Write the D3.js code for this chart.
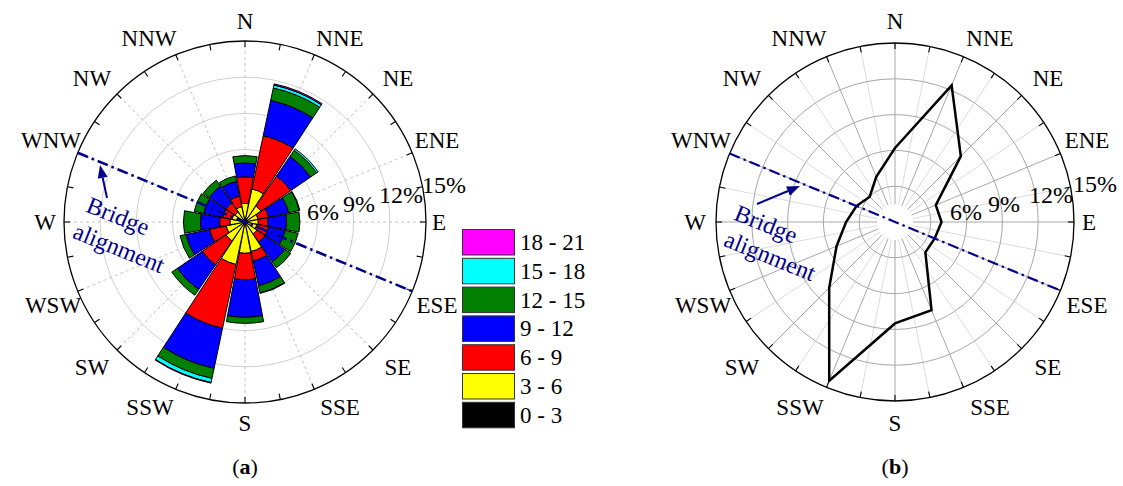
<!DOCTYPE html>
<html>
<head>
<meta charset="utf-8">
<script src="https://cdn.jsdelivr.net/npm/d3@7"></script>
<style>
  html, body { margin: 0; padding: 0; background: #fff; }
  svg { display: block; }
  svg text { font-family: "Liberation Serif", "Times New Roman", Times, serif; }
</style>
</head>
<body>
<svg id="chart" width="1123" height="486"></svg>
<script>
// ---------------- DATA ----------------
const directions = ["N","NNE","NE","ENE","E","ESE","SE","SSE","S","SSW","SW","WSW","W","WNW","NW","NNW"];
const bandKeys   = ["0 - 3","3 - 6","6 - 9","9 - 12","12 - 15","15 - 18","18 - 21"];
const bandColors = ["#000000","#ffff00","#ff0000","#0000ff","#007f00","#00ffff","#ff00ff"];
// frequency (%) per speed band, one value per direction (N ... NNW)
const band0_3   = [0.25,0.30,0.25,0.20,0.20,0.20,0.20,0.20,0.25,0.30,0.25,0.20,0.20,0.20,0.20,0.20];
const band3_6   = [1.30,2.50,1.35,0.90,0.90,0.80,1.00,2.30,2.35,3.30,1.65,1.40,1.05,0.90,0.80,1.10];
const band6_9   = [2.20,4.50,3.00,0.90,0.80,1.00,0.80,0.80,2.20,5.40,2.40,1.40,0.85,0.80,0.90,0.90];
const band9_12  = [1.15,3.00,2.00,1.70,1.55,1.40,2.00,2.10,3.10,3.40,2.50,2.00,1.60,1.60,1.70,1.25];
const band12_15 = [0.60,1.05,0.60,0.90,1.10,1.10,0.60,0.60,0.50,0.85,0.55,0.50,1.40,0.80,0.60,0.45];
const band15_18 = [0.00,0.25,0.15,0.05,0.00,0.00,0.00,0.05,0.00,0.35,0.00,0.00,0.00,0.00,0.00,0.00];
const band18_21 = [0.00,0.10,0.00,0.00,0.00,0.00,0.00,0.00,0.00,0.05,0.00,0.00,0.00,0.00,0.00,0.00];
// panel (b): total frequency (%) per direction
const freqB = [6.2,12.4,7.8,3.7,3.9,3.6,3.6,8.0,8.5,14.4,7.8,5.3,4.1,3.5,3.0,4.1];
const ringTicks = [3,6,9,12,15];
const ringLabels = ["6%","9%","12%","15%"];
const legendLabels = ["18 - 21","15 - 18","12 - 15","9 - 12","6 - 9","3 - 6","0 - 3"];
const alignDeg = 292.5; // bridge alignment direction (WNW - ESE)

// ---------------- LAYOUT ----------------
const compassOffsets = [[0,-201],[95,-184],[153,-144],[192,-82],[194,0],[192,83],[153,145],[95,185],
                        [0,201],[-95,185],[-153,145],[-192,83],[-200,0],[-194,-82],[-153,-144],[-96,-184]];
const pctOffsetsA = [[78,-10],[114,-18],[156,-27],[199,-37]];
const pctOffsetsB = [[71,-10],[109,-18],[156,-27],[200,-38]];

// ---------------- SETUP ----------------
const svg = d3.select("#chart");
svg.append("rect").attr("width",1123).attr("height",486).attr("fill","#fff");
const NAVY = "#00008B";
const bands = [band0_3,band3_6,band6_9,band9_12,band12_15,band15_18,band18_21];
const table = directions.map((d,i) => {
  const row = {dir: d};
  bandKeys.forEach((k,j) => row[k] = bands[j][i]);
  return row;
});

function polar(a, r) { return [Math.sin(a)*r, -Math.cos(a)*r]; }

function frame(g, R, label, pctOffsets) {
  g.append("circle").attr("r", R).attr("fill","none").attr("stroke","#000").attr("stroke-width",1.3);
  d3.range(32).forEach(i => {
    const a = i*Math.PI/16;
    const p1 = polar(a, R), p2 = polar(a, R-6);
    g.append("line").attr("x1",p1[0]).attr("y1",p1[1]).attr("x2",p2[0]).attr("y2",p2[1])
      .attr("stroke","#000").attr("stroke-width",1.1);
  });
  directions.forEach((d,i) => {
    g.append("text").text(d).attr("font-size",23).attr("text-anchor","middle")
      .attr("dominant-baseline","central").attr("fill","#000")
      .attr("x",compassOffsets[i][0]).attr("y",compassOffsets[i][1]);
  });
  ringLabels.forEach((l,i) => {
    g.append("text").text(l).attr("x",pctOffsets[i][0]).attr("y",pctOffsets[i][1])
      .attr("font-size",24).attr("text-anchor","middle").attr("dominant-baseline","central");
  });
  const pl = g.append("text").attr("x",0).attr("y",244).attr("font-size",22)
    .attr("text-anchor","middle").attr("dominant-baseline","central");
  pl.append("tspan").text("(");
  pl.append("tspan").text(label).attr("font-weight","bold");
  pl.append("tspan").text(")");
}

function bridge(g, R, width, tail, tip, txt1, txt2) {
  const a = alignDeg*Math.PI/180;
  const p1 = polar(a, R), p2 = polar(a+Math.PI, R);
  g.append("line").attr("x1",p1[0]).attr("y1",p1[1]).attr("x2",p2[0]).attr("y2",p2[1])
    .attr("stroke",NAVY).attr("stroke-width",width).attr("stroke-dasharray","11,4,2.5,4");
  const dx = tip[0]-tail[0], dy = tip[1]-tail[1], L = Math.hypot(dx,dy);
  const ux = dx/L, uy = dy/L, hl = 13, hw = 5;
  const bx = tip[0]-ux*hl, by = tip[1]-uy*hl;
  g.append("line").attr("x1",tail[0]).attr("y1",tail[1]).attr("x2",bx).attr("y2",by)
    .attr("stroke",NAVY).attr("stroke-width",2);
  g.append("path").attr("d",`M${tip[0]},${tip[1]}L${bx-uy*hw},${by+ux*hw}L${bx+uy*hw},${by-ux*hw}Z`)
    .attr("fill",NAVY);
  [txt1, txt2].forEach(t => {
    g.append("text").text(t.s).attr("font-size",24).attr("fill",NAVY)
      .attr("text-anchor","middle").attr("dominant-baseline","central")
      .attr("transform",`translate(${t.x},${t.y}) rotate(22)`);
  });
}

// ---------------- PANEL (a) ----------------
const RA = 181;
const gA = svg.append("g").attr("transform","translate(245,222)");
const rA = d3.scaleLinear().domain([0,15]).range([0,RA]);
const xA = d3.scaleBand().domain(directions)
  .range([-Math.PI/16, 2*Math.PI - Math.PI/16]).paddingInner(0.06).paddingOuter(0.03);

ringTicks.slice(0,4).forEach(v => {
  gA.append("circle").attr("r", rA(v)).attr("fill","none").attr("stroke","#d0d0d0").attr("stroke-width",1);
});
directions.forEach((d,i) => {
  const p = polar(i*Math.PI/8, RA);
  gA.append("line").attr("x1",0).attr("y1",0).attr("x2",p[0]).attr("y2",p[1])
    .attr("stroke","#c4c4c4").attr("stroke-width",1).attr("stroke-dasharray","3,3");
});

const stacked = d3.stack().keys(bandKeys)(table);
const arc = d3.arc();
stacked.forEach((layer, j) => {
  gA.append("g").selectAll("path").data(layer.filter(d => d[1]-d[0] > 0)).join("path")
    .attr("d", d => arc({innerRadius: rA(d[0]), outerRadius: rA(d[1]),
      startAngle: xA(d.data.dir), endAngle: xA(d.data.dir) + xA.bandwidth()}))
    .attr("fill", bandColors[j]).attr("stroke","#000").attr("stroke-width",1);
});

frame(gA, RA, "a", pctOffsetsA);
bridge(gA, RA, 2.6, [-138,-24], [-145,-57], {s:"Bridge", x:-127, y:-6}, {s:"alignment", x:-126, y:26});

// legend
const lg = svg.append("g").attr("transform","translate(462,229)");
legendLabels.forEach((l,i) => {
  const col = bandColors[bandKeys.indexOf(l)];
  lg.append("rect").attr("x",0.5).attr("y",i*28.8+0.5).attr("width",52).attr("height",25.5)
    .attr("fill",col).attr("stroke","#333").attr("stroke-width",1);
  lg.append("text").text(l).attr("x",58).attr("y",i*28.8+13.5).attr("font-size",23)
    .attr("dominant-baseline","central");
});

// ---------------- PANEL (b) ----------------
const RB = 179;
const gB = svg.append("g").attr("transform","translate(895,222)");
const rB = d3.scaleLinear().domain([0,15]).range([0,RB]);
const aB = d3.scalePoint().domain(directions).range([0, 2*Math.PI - Math.PI/8]);

d3.range(16).forEach(i => {
  const a = i*Math.PI/8 + Math.PI/16;
  const p1 = polar(a, 18), p2 = polar(a, RB);
  gB.append("line").attr("x1",p1[0]).attr("y1",p1[1]).attr("x2",p2[0]).attr("y2",p2[1])
    .attr("stroke","#dcdcdc").attr("stroke-width",1);
});
directions.forEach(d => {
  const a = aB(d);
  const p1 = polar(a, 18), p2 = polar(a, RB);
  gB.append("line").attr("x1",p1[0]).attr("y1",p1[1]).attr("x2",p2[0]).attr("y2",p2[1])
    .attr("stroke","#a8a8a8").attr("stroke-width",1);
});
ringTicks.slice(0,4).forEach(v => {
  gB.append("circle").attr("r", rB(v)).attr("fill","none").attr("stroke","#a8a8a8").attr("stroke-width",1);
});

const radial = d3.lineRadial().angle((d,i) => aB(directions[i])).radius(d => rB(d)).curve(d3.curveLinearClosed);
gB.append("path").attr("d", radial(freqB)).attr("fill","none").attr("stroke","#000")
  .attr("stroke-width",2.5).attr("stroke-linejoin","miter");

frame(gB, RB, "b", pctOffsetsB);
bridge(gB, RB, 2.2, [-138,-18], [-95,-36], {s:"Bridge", x:-129, y:2}, {s:"alignment", x:-125, y:34});
</script>
</body>
</html>
